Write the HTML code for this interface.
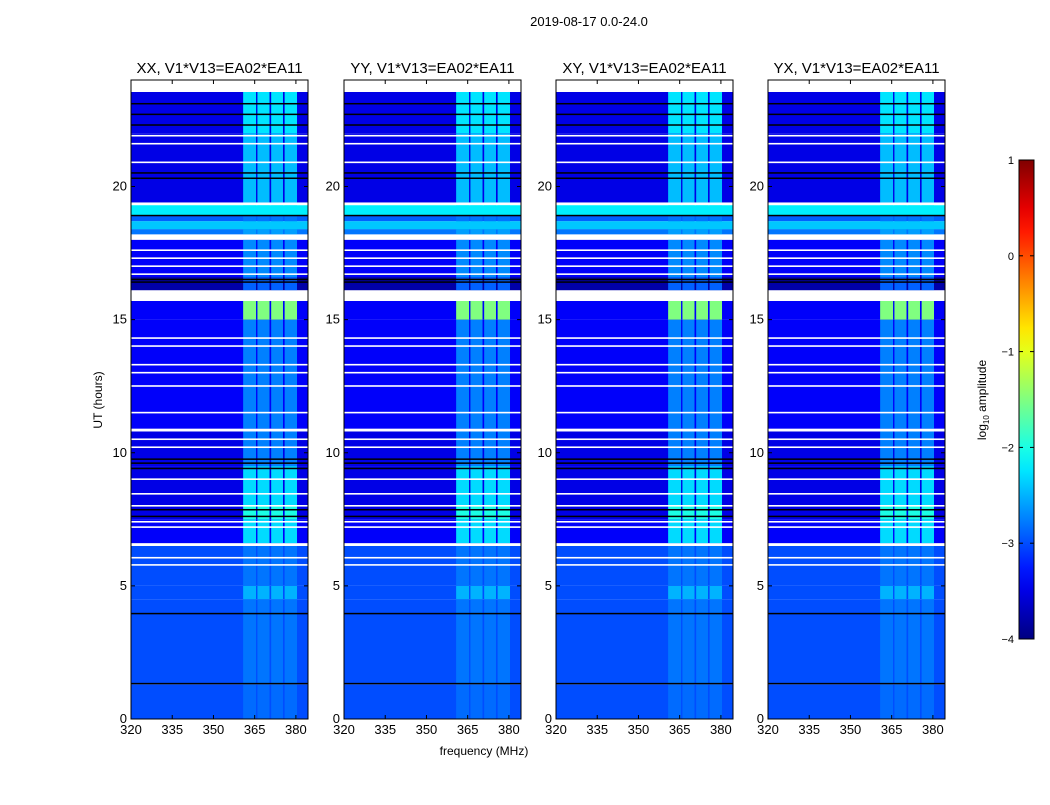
<!DOCTYPE html>
<html><head><meta charset="utf-8"><style>
body{margin:0;background:#fff;}
svg text{font-family:"Liberation Sans",sans-serif;fill:#000;}
</style></head><body>
<svg id="fig" width="1050" height="800" xmlns="http://www.w3.org/2000/svg">
<rect width="1050" height="800" fill="#fff"/>
<text x="589" y="26" font-size="13" text-anchor="middle">2019-08-17 0.0-24.0</text>
<text x="484" y="755" font-size="12" text-anchor="middle">frequency (MHz)</text>
<text transform="translate(102,400) rotate(-90)" font-size="12" text-anchor="middle">UT (hours)</text>
<g id="panels"></g>
<g id="cbar"></g>
<text transform="translate(986,400) rotate(-90)" font-size="12" text-anchor="middle">log<tspan font-size="8" dy="3">10</tspan><tspan dy="-3"> amplitude</tspan></text>
</svg>
<script>
// data (log10 amplitude)
const panelTitles = ["XX, V1*V13=EA02*EA11","YY, V1*V13=EA02*EA11","XY, V1*V13=EA02*EA11","YX, V1*V13=EA02*EA11"];
const xTicks = [320,335,350,365,380];
const yTicks = [0,5,10,15,20];
const cbTicks = [1,0,-1,-2,-3,-4];
const subbands = [[360.8,365.5],[366,370.4],[371,375.3],[375.9,380.4]];
// [t0, t1, background level, rfi level]
const timeBands = [
 [0,1.3,-3.0,-2.85],[1.35,4.5,-3.0,-2.8],[4.5,5.0,-3.0,-2.5],[5.0,6.5,-3.0,-2.8],
 [6.6,7.5,-3.4,-2.3],[7.5,8.0,-3.5,-2.0],[8.0,9.5,-3.5,-2.3],[9.5,10.8,-3.5,-2.75],
 [10.9,15.0,-3.4,-2.75],[15.0,15.7,-3.4,-1.5],[16.1,16.6,-3.8,-2.9],[16.6,18.0,-3.4,-2.7],
 [18.2,18.4,-2.8,-2.6],[18.4,18.7,-2.4,-2.4],[18.7,18.9,-2.9,-2.8],[18.9,19.3,-2.2,-2.2],
 [19.4,22.0,-3.5,-2.45],[22.0,23.55,-3.5,-2.25]
];
const whiteBands = [[6.5,6.6],[10.8,10.9],[15.7,16.1],[18.0,18.2],[19.3,19.4],[23.55,24]];
const whiteLines = [5.78,6.05,7.2,7.4,8.0,8.45,9.0,10.2,10.5,11.5,12.5,13.0,13.3,14.0,14.3,16.7,17.0,17.3,17.6,20.9,21.6,21.9];
const blackLines = [1.32,3.95,7.6,7.85,9.4,9.6,9.75,16.4,16.5,18.9,20.3,20.5,22.3,22.7,23.1];

function jet(v){ // v in [-4,1]
  let t=Math.max(0,Math.min(1,(v+4)/5));
  const f=x=>Math.max(0,Math.min(1,x));
  const r=f(1.5-Math.abs(4*t-3)), g=f(1.5-Math.abs(4*t-2)), b=f(1.5-Math.abs(4*t-1));
  return `rgb(${Math.round(r*255)},${Math.round(g*255)},${Math.round(b*255)})`;
}
const NS="http://www.w3.org/2000/svg";
function mk(tag,attrs,parent){const e=document.createElementNS(NS,tag);for(const k in attrs)e.setAttribute(k,attrs[k]);parent.appendChild(e);return e;}
const panelX=[131,344,556,768], pw=177, axTop=80, axBottom=719;
const xmin=320, xmax=384.4, ymin=0, ymax=24;
const panels=document.getElementById('panels');
panelX.forEach((px,i)=>{
  const X=f=>px+(f-xmin)/(xmax-xmin)*pw;
  const Y=h=>axBottom-(h-ymin)/(ymax-ymin)*(axBottom-axTop);
  const g=mk('g',{},panels);
  
  
  timeBands.forEach(b=>{
    const r=mk('rect',{x:px,y:Y(b[1]),width:pw,height:Y(b[0])-Y(b[1]),fill:jet(b[2])},g);
    
    
    subbands.forEach(s=>{
      const c=mk('rect',{x:X(s[0]),y:Y(b[1]),width:X(s[1])-X(s[0]),height:Y(b[0])-Y(b[1]),fill:jet(b[3])},g);
      
      
    });
  });
  blackLines.forEach(h=>{const l=mk('rect',{x:px,y:Y(h)-1,width:pw,height:1.5,fill:'#000'},g);
    });
  whiteLines.forEach(h=>{const l=mk('rect',{x:px,y:Y(h)-1,width:pw,height:1.6,fill:'#fff'},g);
    });
  whiteBands.forEach(b=>{const l=mk('rect',{x:px,y:Y(b[1]),width:pw,height:Y(b[0])-Y(b[1]),fill:'#fff'},g);
    });
  const fr=mk('rect',{x:px,y:axTop,width:pw,height:axBottom-axTop,fill:'none',stroke:'#000','stroke-width':1},g);
  
  const t=mk('text',{x:px+pw/2,y:73,'font-size':15,'text-anchor':'middle'},g);t.textContent=panelTitles[i];
  
  xTicks.forEach(v=>{
    mk('line',{x1:X(v),x2:X(v),y1:axBottom,y2:axBottom-4,stroke:'#000'},g);
    mk('line',{x1:X(v),x2:X(v),y1:axTop,y2:axTop+4,stroke:'#000'},g);
    const tx=mk('text',{x:X(v),y:axBottom+15,'font-size':13,'text-anchor':'middle'},g);tx.textContent=v;
    
  });
  yTicks.forEach(v=>{
    mk('line',{x1:px,x2:px+4,y1:Y(v),y2:Y(v),stroke:'#000'},g);
    mk('line',{x1:px+pw,x2:px+pw-4,y1:Y(v),y2:Y(v),stroke:'#000'},g);
    const ty=mk('text',{x:px-4,y:Y(v)+4,'font-size':13,'text-anchor':'end'},g);ty.textContent=v;
    
  });
});
// colorbar
const cb=document.getElementById('cbar');
const cx=1019,cw=15,ct=160,cbot=639;
const CY=v=>cbot-(v+4)/5*(cbot-ct);
const defs=mk('defs',{},cb);
const grad=mk('linearGradient',{id:'jetg',x1:0,y1:1,x2:0,y2:0},defs);
for(let k=0;k<=20;k++){mk('stop',{offset:k/20,'stop-color':jet(-4+k*5/20)},grad);}
const cr=mk('rect',{x:cx,y:ct,width:cw,height:cbot-ct,fill:'url(#jetg)',stroke:'#000'},cb);

cbTicks.forEach(v=>{
  mk('line',{x1:cx,x2:cx+4,y1:CY(v),y2:CY(v),stroke:'#000'},cb);
  mk('line',{x1:cx+cw,x2:cx+cw-4,y1:CY(v),y2:CY(v),stroke:'#000'},cb);
  const t=mk('text',{x:cx-5,y:CY(v)+4,'font-size':11,'text-anchor':'end'},cb);t.textContent=(v<0?'\u2212'+(-v):v);
  
});
</script>
</body></html>
